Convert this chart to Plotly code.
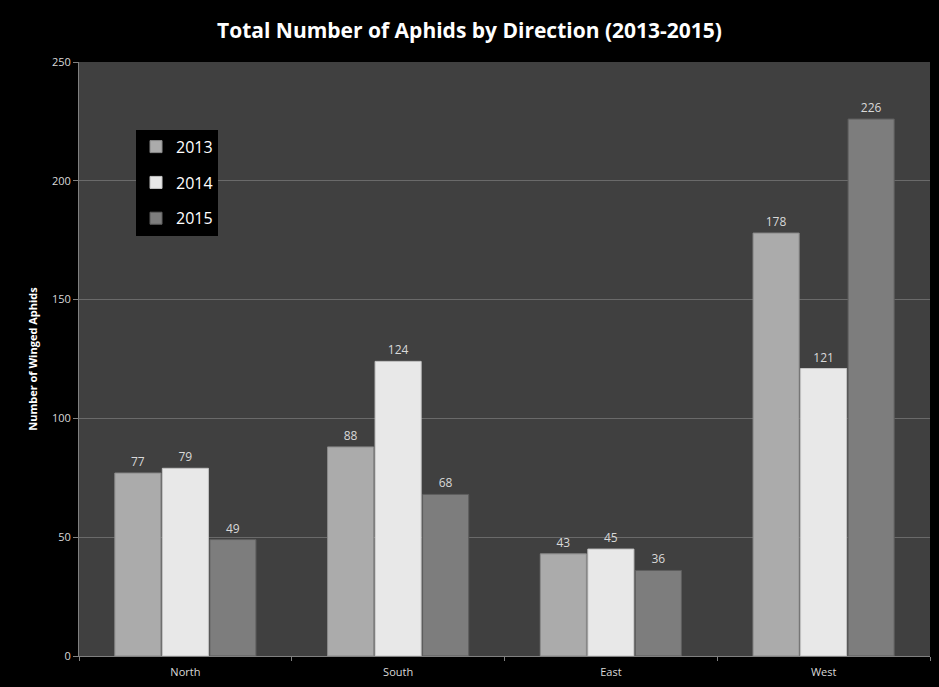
import plotly.graph_objects as go

directions = ["North", "South", "East", "West"]
years = ["2013", "2014", "2015"]
values_2013 = [77, 88, 43, 178]
values_2014 = [79, 124, 45, 121]
values_2015 = [49, 68, 36, 226]
y_ticks = [0, 50, 100, 150, 200, 250]

series = [values_2013, values_2014, values_2015]
colors = ["#ababab", "#e8e8e8", "#7d7d7d"]
edges = ["#8a8a8a", "#c4c4c4", "#5e5e5e"]

fig = go.Figure()
for i, (yr, vals) in enumerate(zip(years, series)):
    fig.add_trace(go.Bar(
        x=directions, y=vals, name=yr,
        marker=dict(color=colors[i], line=dict(color=edges[i], width=1)),
        text=[str(v) for v in vals], textposition="outside",
        textfont=dict(family="Open Sans", size=12, color="#d9d9d9"),
        cliponaxis=False, legendgroup=yr,
    ))

fig.update_layout(
    width=939, height=687,
    paper_bgcolor="#000000", plot_bgcolor="#404040",
    margin=dict(l=79, r=9, t=62, b=31),
    barmode="group", bargap=0.33, bargroupgap=0.03,
    title=dict(text="<b>Total Number of Aphids by Direction (2013-2015)</b>",
               x=0.5, xanchor="center", y=0.956, yanchor="middle",
               font=dict(family="Open Sans", size=21, color="#ffffff")),
    font=dict(family="Open Sans", color="#d9d9d9"),
    legend=dict(x=0.067, y=0.886, xanchor="left", yanchor="top",
                bgcolor="#000000", font=dict(size=16, color="#ffffff"),
                tracegroupgap=12, itemwidth=30),
    xaxis=dict(showgrid=False, ticks="outside", tickson="boundaries",
               ticklen=4, tickcolor="#808080", linecolor="#808080",
               showline=True, ticklabelstandoff=6,
               tickfont=dict(size=11, color="#d9d9d9")),
    yaxis=dict(range=[0, 250], tickvals=y_ticks, gridcolor="#6a6a6a",
               ticks="outside", ticklen=5, tickcolor="#808080",
               showline=True, linecolor="#808080", zeroline=False,
               tickfont=dict(size=11, color="#d9d9d9"),
               title=dict(text="<b>Number of Winged Aphids</b>",
                          font=dict(size=11, color="#ffffff"), standoff=12)),
)

fig.write_html("out.html", config={"displayModeBar": False},
               post_script="document.body.style.margin='0';document.body.style.background='#000';")
